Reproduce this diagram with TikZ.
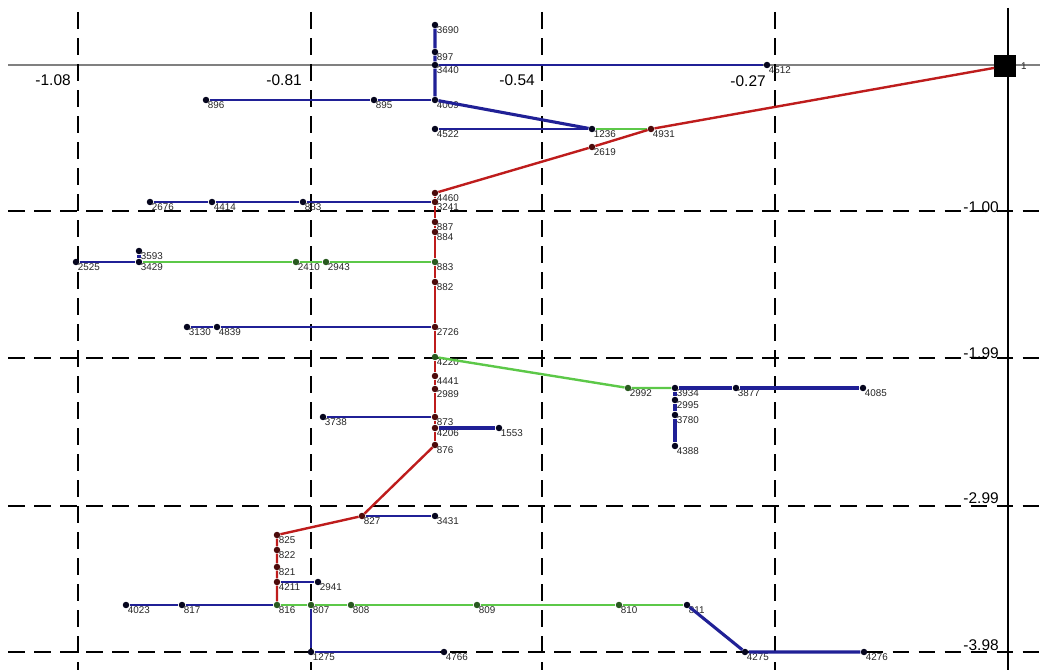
\documentclass[tikz,border=0pt]{standalone}
\usepackage{fontspec}
\setmainfont{Liberation Sans}
\definecolor{netblue}{RGB}{32,32,150}
\definecolor{netred}{RGB}{190,28,28}
\definecolor{netgreen}{RGB}{92,200,72}
\newcommand{\netptradius}{4.6pt}
\tikzset{bpt/.style={circle, fill=black!80!netblue, inner sep=0pt, minimum width=\netptradius}}
\tikzset{rpt/.style={circle, fill=black!60!netred, inner sep=0pt, minimum width=\netptradius}}
\tikzset{gpt/.style={circle, fill=black!55!netgreen, inner sep=0pt, minimum width=\netptradius}}
\tikzset{ptlbl/.style={font=\fontsize{7}{7}\selectfont, text=black!85, inner sep=0.5pt, label distance=-1.5pt}}
\tikzset{tag/.style={label={[ptlbl]south east:#1}}}
\tikzset{axlbl/.style={font=\fontsize{11}{11}\selectfont, inner sep=0pt, anchor=east}}
\tikzset{bline/.style={netblue, line width=1.3pt}, bthick/.style={netblue, line width=2.2pt},
         rline/.style={netred, line width=1.7pt}, gline/.style={netgreen, line width=1.7pt}}
\tikzset{gridline/.style={black, line width=1.1pt, dash pattern=on 12pt off 6.5pt}}

\begin{document}
\begin{tikzpicture}[x=0.025cm, y=-0.025cm]
\useasboundingbox[fill=white] (0,0) rectangle (1040,670);

\draw[gray, line width=0.8pt] (8,65) -- (1040,65);
\foreach \gx in {78,311,542,775} \draw[gridline] (\gx,12) -- (\gx,670);
\foreach \gy in {211,358,506,652} \draw[gridline] (8,\gy) -- (1040,\gy);
\draw[black, line width=1.2pt] (1008,8) -- (1008,670);

\node[axlbl] (x108) at (71,80) {-1.08};
\node[axlbl] (x081) at (302,80) {-0.81};
\node[axlbl] (x054) at (535,80) {-0.54};
\node[axlbl] (x027) at (766,81) {-0.27};
\node[axlbl] (y100) at (999,207) {-1.00};
\node[axlbl] (y199) at (999,353) {-1.99};
\node[axlbl] (y299) at (999,498) {-2.99};
\node[axlbl] (y398) at (999,645) {-3.98};

\node[fill=black, inner sep=0pt, minimum size=15pt, label={[ptlbl, label distance=3pt]east:1}] (s1) at (1005,66) {};

\node[bpt, tag=3690] (3690) at (435,25) {};
\node[bpt, tag=897] (897) at (435,52) {};
\node[bpt, tag=3440] (3440) at (435,65) {};
\node[bpt, tag=4009] (4009) at (435,100) {};
\node[bpt, tag=4512] (4512) at (767,65) {};
\node[bpt, tag=896] (896) at (206,100) {};
\node[bpt, tag=895] (895) at (374,100) {};
\node[bpt, tag=4522] (4522) at (435,129) {};
\node[bpt, tag=1236] (1236) at (592,129) {};
\node[rpt, tag=4931] (4931) at (651,129) {};
\node[rpt, tag=2619] (2619) at (592,147) {};

\node[rpt, tag=4460] (4460) at (435,193) {};
\node[rpt, tag=3241] (3241) at (435,202) {};
\node[rpt, tag=887] (887) at (435,222) {};
\node[rpt, tag=884] (884) at (435,232) {};
\node[gpt, tag=883] (883) at (435,262) {};
\node[rpt, tag=882] (882) at (435,282) {};
\node[rpt, tag=2726] (2726) at (435,327) {};
\node[gpt, tag=4220] (4220) at (435,357) {};
\node[rpt, tag=4441] (4441) at (435,376) {};
\node[rpt, tag=2989] (2989) at (435,389) {};
\node[rpt, tag=873] (873) at (435,417) {};
\node[rpt, tag=4206] (4206) at (435,428) {};
\node[rpt, tag=876] (876) at (435,445) {};

\node[bpt, tag=2676] (2676) at (150,202) {};
\node[bpt, tag=4414] (4414) at (212,202) {};
\node[bpt, tag=883] (883b) at (303,202) {};
\node[bpt, tag=2525] (2525) at (76,262) {};
\node[bpt, tag=3593] (3593) at (139,251) {};
\node[bpt, tag=3429] (3429) at (139,262) {};
\node[gpt, tag=2410] (2410) at (296,262) {};
\node[gpt, tag=2943] (2943) at (326,262) {};
\node[bpt, tag=3130] (3130) at (187,327) {};
\node[bpt, tag=4839] (4839) at (217,327) {};
\node[bpt, tag=3738] (3738) at (323,417) {};
\node[bpt, tag=1553] (1553) at (499,428) {};

\node[gpt, tag=2992] (2992) at (628,388) {};
\node[bpt, tag=3934] (3934) at (675,388) {};
\node[bpt, tag=3877] (3877) at (736,388) {};
\node[bpt, tag=4085] (4085) at (863,388) {};
\node[bpt, tag=2995] (2995) at (675,400) {};
\node[bpt, tag=3780] (3780) at (675,415) {};
\node[bpt, tag=4388] (4388) at (675,446) {};

\node[rpt, tag=827] (827) at (362,516) {};
\node[bpt, tag=3431] (3431) at (435,516) {};
\node[rpt, tag=825] (825) at (277,535) {};
\node[rpt, tag=822] (822) at (277,550) {};
\node[rpt, tag=821] (821) at (277,567) {};
\node[rpt, tag=4211] (4211) at (277,582) {};
\node[bpt, tag=2941] (2941) at (318,582) {};
\node[gpt, tag=816] (816) at (277,605) {};
\node[bpt, tag=4023] (4023) at (126,605) {};
\node[bpt, tag=817] (817) at (182,605) {};
\node[gpt, tag=807] (807) at (311,605) {};
\node[gpt, tag=808] (808) at (351,605) {};
\node[gpt, tag=809] (809) at (477,605) {};
\node[gpt, tag=810] (810) at (619,605) {};
\node[bpt, tag=811] (811) at (687,605) {};
\node[bpt, tag=1275] (1275) at (311,652) {};
\node[bpt, tag=4766] (4766) at (444,652) {};
\node[bpt, tag=4275] (4275) at (745,652) {};
\node[bpt, tag=4276] (4276) at (864,652) {};

\draw[bthick] (3690) -- (897) -- (3440) -- (4009) -- (1236);
\draw[bline] (3440) -- (4512);
\draw[bline] (896) -- (895) -- (4009);
\draw[bline] (4522) -- (1236);
\draw[gline] (1236) -- (4931);
\draw[rline] (s1) -- (4931) -- (2619) -- (4460);

\draw[rline] (4460) -- (3241) -- (887) -- (884) -- (883) -- (882) -- (2726) -- (4220)
    -- (4441) -- (2989) -- (873) -- (4206) -- (876);
\draw[rline] (876) -- (827) -- (825) -- (822) -- (821) -- (4211) -- (816);

\draw[bline] (2676) -- (4414) -- (883b) -- (3241);
\draw[bline] (2525) -- (3429);
\draw[bthick] (3593) -- (3429);
\draw[gline] (3429) -- (2410) -- (2943) -- (883);
\draw[bline] (3130) -- (4839) -- (2726);
\draw[bline] (3738) -- (873);
\draw[bthick] (4206) -- (1553);

\draw[gline] (4220) -- (2992) -- (3934);
\draw[bthick] (3934) -- (3877) -- (4085);
\draw[bthick] (3934) -- (2995) -- (3780) -- (4388);

\draw[bline] (827) -- (3431);
\draw[bline] (4211) -- (2941);
\draw[bline] (4023) -- (817) -- (816);
\draw[gline] (816) -- (807) -- (808) -- (809) -- (810) -- (811);
\draw[bline] (807) -- (1275) -- (4766);
\draw[bthick] (811) -- (4275) -- (4276);

\end{tikzpicture}
\end{document}
